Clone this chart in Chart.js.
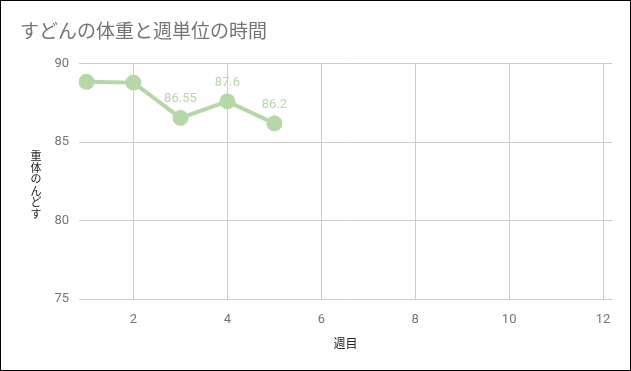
<!DOCTYPE html>
<html>
<head>
<meta charset="utf-8">
<script src="https://cdn.jsdelivr.net/npm/chart.js@4"></script>
<style>
  html, body { margin: 0; padding: 0; background: #fff; }
  .frame { width: 631px; height: 371px; border: 1px solid #000; box-sizing: border-box; }
  canvas { display: block; }
</style>
</head>
<body>
<div class="frame"><canvas id="weightChart" width="629" height="369"></canvas></div>
<script>
const chartTitle = "すどんの体重と週単位の時間";
const xTitle = "週目";
const yTitle = "すどんの体重";   // drawn upright, bottom to top

const weeks = [1, 2, 3, 4, 5];
const weights = [88.85, 88.8, 86.55, 87.6, 86.2];
const shownLabels = [null, null, "86.55", "87.6", "86.2"];
const xTicks = [2, 4, 6, 8, 10, 12];

const green = "#b6d7a8";
const font = "Roboto, 'Noto Sans CJK JP', sans-serif";

// value labels above the points, with the faint leader line
const pointLabels = {
    id: "pointLabels",
    afterDatasetsDraw(chart) {
        const ctx = chart.ctx;
        const meta = chart.getDatasetMeta(0);
        ctx.save();
        ctx.font = "13px " + font;
        ctx.textAlign = "center";
        ctx.textBaseline = "middle";
        meta.data.forEach((pt, i) => {
            const txt = shownLabels[i];
            if (!txt) return;
            ctx.strokeStyle = "rgba(182,215,168,0.35)";
            ctx.lineWidth = 1;
            ctx.beginPath();
            ctx.moveTo(pt.x, pt.y - 19 + 8);
            ctx.lineTo(pt.x, pt.y - 6);
            ctx.stroke();
            ctx.fillStyle = green;
            ctx.fillText(txt, pt.x, pt.y - 19);
        });
        ctx.restore();
    }
};

// y title with upright characters stacked bottom to top
const verticalTitle = {
    id: "verticalTitle",
    afterDraw(chart) {
        const ctx = chart.ctx;
        const area = chart.chartArea;
        const chars = Array.from(yTitle);
        const step = 11.5;
        const cy = (area.top + area.bottom) / 2 + 5;
        const startY = cy + (chars.length - 1) * step / 2;
        ctx.save();
        ctx.font = "11px " + font;
        ctx.fillStyle = "#222";
        ctx.textAlign = "center";
        ctx.textBaseline = "middle";
        chars.forEach((c, i) => {
            ctx.fillText(c, 35, startY - i * step);
        });
        ctx.restore();
    }
};

new Chart(document.getElementById("weightChart"), {
    type: "line",
    data: {
        datasets: [{
            data: weeks.map((w, i) => ({ x: w, y: weights[i] })),
            borderColor: green,
            backgroundColor: green,
            borderWidth: 4,
            pointRadius: 6,
            pointBackgroundColor: green,
            pointBorderColor: green,
            tension: 0,
            fill: false
        }]
    },
    options: {
        responsive: false,
        animation: false,
        layout: {
            padding: { left: 19, right: 18, top: 0, bottom: 0 }
        },
        plugins: {
            legend: { display: false },
            tooltip: { enabled: false },
            title: {
                display: true,
                text: chartTitle,
                align: "start",
                color: "#757575",
                font: { family: font, size: 19, weight: "normal" },
                padding: { top: 21, bottom: 19 }
            }
        },
        scales: {
            x: {
                type: "linear",
                min: 0.84,
                max: 12.19,
                afterBuildTicks(scale) {
                    scale.ticks = xTicks.map(v => ({ value: v }));
                },
                afterFit(scale) { scale.height = 71; },
                ticks: {
                    color: "#757575",
                    padding: 13,
                    maxRotation: 0,
                    font: { family: font, size: 13 }
                },
                grid: { color: "#cccccc", drawTicks: false },
                border: { display: false },
                title: {
                    display: true,
                    text: xTitle,
                    color: "#222",
                    font: { family: font, size: 12 },
                    padding: { top: 0, bottom: 18 }
                }
            },
            y: {
                min: 75,
                max: 90,
                afterFit(scale) { scale.width = 59; },
                ticks: {
                    stepSize: 5,
                    color: "#757575",
                    padding: 10,
                    font: { family: font, size: 13 }
                },
                grid: { color: "#cccccc", drawTicks: false },
                border: { display: false }
            }
        }
    },
    plugins: [pointLabels, verticalTitle]
});
</script>
</body>
</html>
